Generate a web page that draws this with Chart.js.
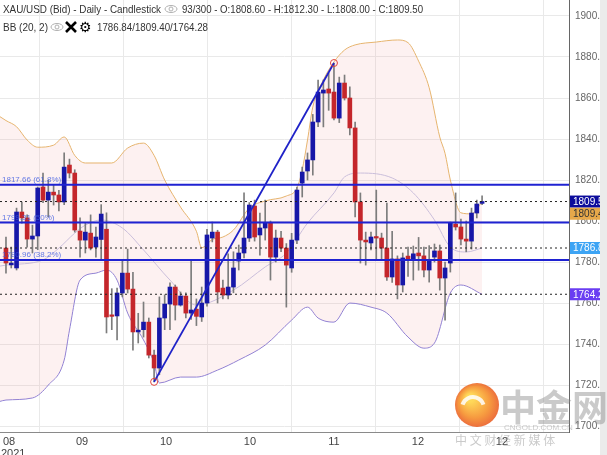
<!DOCTYPE html>
<html><head><meta charset="utf-8">
<script src="https://cdn.jsdelivr.net/npm/chart.js@4.4.0/dist/chart.umd.min.js"></script>
<style>html,body{margin:0;padding:0;background:#fff;overflow:hidden}#wrap{width:607px;height:455px;position:relative}</style>
</head><body><div id="wrap"><canvas id="c" width="607" height="455"></canvas></div>
<script>
// ---- data ----
const opens  = [1786.8,1778.6,1777.1,1804.4,1801.5,1791.2,1792.7,1816.6,1810.2,1814.1,1812.7,1809.3,1827.3,1823.4,1795.1,1790.7,1794.1,1787.3,1791.0,1796.0,1754.0,1753.7,1764.9,1774.6,1766.8,1745.9,1747.0,1750.7,1734.6,1728.3,1752.7,1759.5,1767.8,1759.0,1763.4,1755.1,1757.0,1753.2,1760.0,1791.7,1794.6,1767.3,1763.9,1767.8,1780.5,1784.4,1791.7,1807.3,1793.2,1796.6,1799.0,1782.4,1791.7,1786.8,1777.1,1790.7,1818.5,1824.4,1829.8,1848.3,1862.4,1864.4,1862.9,1850.2,1867.3,1860.0,1845.4,1809.3,1790.7,1789.3,1792.2,1791.7,1786.8,1772.7,1781.5,1768.8,1782.9,1781.0,1784.4,1783.0,1776.1,1782.4,1785.4,1772.2,1779.5,1798.5,1797.1,1791.2,1790.2,1803.9,1808.6];
const highs  = [1792.2,1787.3,1806.3,1809.3,1803.0,1798.0,1816.6,1823.4,1820.0,1817.6,1815.0,1833.2,1830.2,1825.0,1801.5,1799.0,1803.0,1797.0,1808.0,1804.0,1767.0,1767.3,1781.0,1786.3,1775.0,1755.0,1760.5,1752.7,1737.0,1763.0,1764.0,1769.8,1768.8,1765.4,1765.0,1781.0,1762.0,1767.8,1796.0,1799.5,1795.5,1771.2,1784.0,1785.0,1788.3,1813.7,1809.0,1810.2,1803.9,1810.2,1800.0,1795.6,1795.0,1789.0,1794.0,1816.6,1826.3,1833.2,1852.0,1868.8,1868.8,1872.2,1877.06,1870.2,1871.2,1865.4,1848.3,1813.7,1794.6,1794.6,1815.1,1794.1,1808.8,1795.0,1783.0,1784.4,1787.3,1787.8,1792.0,1787.3,1788.0,1788.8,1788.3,1780.0,1799.5,1813.7,1801.0,1800.0,1806.3,1810.2,1812.3];
const lows   = [1774.6,1777.1,1776.1,1799.0,1787.3,1784.4,1786.0,1809.0,1802.0,1807.8,1804.9,1808.0,1821.0,1794.6,1782.4,1784.4,1785.9,1782.4,1781.0,1745.4,1747.0,1742.0,1763.0,1764.9,1737.0,1740.5,1743.4,1733.2,1721.56,1725.0,1747.0,1747.0,1751.7,1758.5,1752.7,1752.0,1749.0,1751.0,1758.5,1789.8,1760.0,1762.0,1762.0,1765.0,1776.1,1782.0,1790.0,1790.2,1783.4,1790.7,1771.2,1780.0,1785.0,1758.0,1775.0,1789.0,1811.7,1820.0,1822.4,1846.0,1845.9,1854.0,1849.3,1848.0,1859.0,1842.0,1802.0,1779.5,1778.5,1785.9,1781.0,1781.0,1771.0,1770.0,1762.0,1765.4,1773.0,1771.2,1776.0,1772.7,1770.2,1780.0,1766.3,1751.7,1775.1,1795.6,1788.3,1785.0,1786.3,1801.5,1808.0];
const closes = [1779.5,1779.5,1804.4,1801.5,1791.2,1792.7,1816.1,1810.2,1814.1,1812.7,1809.3,1826.3,1823.4,1795.6,1790.7,1794.6,1786.8,1792.2,1803.4,1753.2,1753.5,1764.9,1774.6,1766.8,1745.9,1746.8,1750.7,1734.6,1728.3,1752.7,1759.5,1767.8,1759.0,1763.4,1755.1,1756.6,1753.5,1760.0,1793.2,1794.6,1765.4,1763.9,1767.8,1777.1,1784.4,1791.7,1807.8,1792.2,1796.6,1799.0,1782.4,1791.7,1786.8,1778.5,1790.7,1815.1,1823.9,1829.8,1848.3,1862.9,1863.9,1862.4,1850.2,1867.3,1860.0,1845.4,1809.3,1790.7,1789.8,1792.2,1791.7,1786.8,1772.7,1781.5,1768.8,1782.0,1781.0,1784.0,1783.0,1776.1,1781.0,1785.4,1772.2,1777.1,1799.0,1797.1,1791.2,1790.2,1803.9,1808.3,1809.5];

const bbUpperAt = [-1.2,0,2,4,6,9,11,13,15,20,23,26,28,30,33,36,37,39,41,43,46,49,53,55,56,57,58,60,62,64,66,70,74,76,78,80,82,83,84,86,88,90];
const bbUpper   = [1851,1849,1846,1839.5,1836,1837,1841,1832,1828.3,1828.3,1835.6,1838,1832,1820,1806.8,1795,1787,1791,1792.2,1795.6,1806.3,1809.8,1812.2,1816.1,1825,1839.5,1855.6,1868.8,1877.6,1883.4,1885.9,1887.3,1888.3,1887,1878,1865,1841,1833,1820,1804,1803.5,1809.4];
const bbMidAt   = [-1.2,0,7,10,13,15,18,22,26,31,36,43,49,53,57,62,64,67,73,77,81,84,87,90];
const bbMid     = [1778,1778.5,1781,1786.8,1794.1,1798,1800.5,1796.6,1785.9,1771.2,1759,1766.3,1777.6,1784.4,1799,1813.7,1821.5,1823.4,1821,1813.7,1800.5,1787.3,1784.9,1786.84];
const bbLowerAt = [-1.2,0,5,8,11,12,14,17,19,21,23,26,28,29,33,36,40,44,49,54,57,59,62,65,69,72,76,79,81,84,86,90];
const bbLower   = [1712,1712.7,1713.7,1720,1732.2,1746.8,1771.2,1774.6,1776.1,1771.2,1755.1,1742,1730.7,1721,1723.9,1723.9,1727.3,1732.2,1739.5,1751.7,1758,1752.7,1750.7,1760,1758,1755.1,1743.4,1738,1740.5,1764.9,1768.8,1764.28];

const fibLevels = [1817.66, 1799.31, 1780.96];
const fibLabels = ['1817.66 (61.8%)', '1799.31 (50%)', '1780.96 (38.2%)'];
const dottedLevels = [1809.5, 1786.84, 1764.28];
const trendAt = [28, 62];
const trendVal = [1721.56, 1877.06];

const yTicks = [1700,1720,1740,1760,1780,1800,1820,1840,1860,1880,1900];
const xTickAt = [14.37, 30.25, 46.12, 62.0, 77.88, 93.76];
const xTickText = ['09','10','10','11','12','12'];
const firstTickText = ['08','2021'];

const tagValues = [1809.5, 1809.4, 1786.84, 1764.28];
const tagTexts  = ['1809.50','1809.40','1786.84','1764.28'];

const headerMain = 'XAU/USD (Bid) - Daily - Candlestick';
const headerOHLC = '93/300 - O:1808.60 - H:1812.30 - L:1808.00 - C:1809.50';
const bbTitle = 'BB (20, 2)';
const bbValues = '1786.84/1809.40/1764.28';

// ---- build ----
const X_MIN = -1.13, X_MAX = 106.43;
const idx = closes.map((_, i) => i);
const up = idx.map(i => closes[i] >= opens[i]);
const BLUE = '#1717a8', RED = '#c4262b';
const FONT = '"Liberation Sans", Arial, sans-serif';

const pts = (at, vals) => at.map((x, k) => ({x, y: vals[k]}));
const hline = v => [{x: X_MIN, y: v}, {x: X_MAX, y: v}];

const datasets = [
  {type:'line', data: pts(bbUpperAt, bbUpper), borderColor:'#e6b46e', borderWidth:1, pointRadius:0,
   cubicInterpolationMode:'monotone', fill:{target:2}, backgroundColor:'rgba(246,170,170,0.17)', order:6},
  {type:'line', data: pts(bbMidAt, bbMid), borderColor:'#c2c2e4', borderWidth:1, pointRadius:0,
   cubicInterpolationMode:'monotone', fill:false, order:6},
  {type:'line', data: pts(bbLowerAt, bbLower), borderColor:'#8a7ed6', borderWidth:1, pointRadius:0,
   cubicInterpolationMode:'monotone', fill:false, order:6},
  {type:'bar', data: idx.map(i => ({x:i, y:[lows[i], highs[i]]})), backgroundColor:'#7c7c7c',
   barThickness:1, grouped:false, minBarLength:1, order:4},
  {type:'bar', data: idx.map(i => ({x:i, y:[opens[i], closes[i]]})), backgroundColor: idx.map(i => up[i] ? BLUE : RED),
   barThickness:4, grouped:false, minBarLength:1.5, order:3},
];
fibLevels.forEach(v => datasets.push({type:'line', data: hline(v), borderColor:'#1f22d2', borderWidth:2, pointRadius:0, fill:false, order:1}));
dottedLevels.forEach(v => datasets.push({type:'line', data: hline(v), borderColor:'#222', borderWidth:1, borderDash:[2,3], pointRadius:0, fill:false, order:1}));
datasets.push({type:'line', data: pts(trendAt, trendVal), borderColor:'#1f22c8', borderWidth:1.8,
  pointRadius:3.5, pointBorderColor:'#e0443c', pointBackgroundColor:'rgba(255,255,255,0)', pointBorderWidth:1, fill:false, order:0});

function fitText(ctx, text, x, y, w) {
  const m = ctx.measureText(text).width;
  ctx.save(); ctx.translate(x, y); ctx.scale(w / m, 1); ctx.fillText(text, 0, 0); ctx.restore();
}
function eye(ctx, cx, cy) {
  ctx.save(); ctx.strokeStyle = '#b0b0b0'; ctx.lineWidth = 1;
  ctx.beginPath(); ctx.ellipse(cx, cy, 6, 3.5, 0, 0, Math.PI * 2); ctx.stroke();
  ctx.beginPath(); ctx.arc(cx, cy, 2, 0, Math.PI * 2); ctx.stroke();
  ctx.restore();
}

const overlay = {
  id: 'overlay',
  afterDraw(chart) {
    const ctx = chart.ctx, ys = chart.scales.y, xs = chart.scales.x, a = chart.chartArea;
    ctx.save();
    // fib labels
    ctx.font = '8px ' + FONT;
    ctx.fillStyle = 'rgba(60,90,225,0.8)';
    ctx.textBaseline = 'bottom'; ctx.textAlign = 'left';
    fibLevels.forEach((v, k) => ctx.fillText(fibLabels[k], a.left + 2, ys.getPixelForValue(v) - 1));
    // x labels
    ctx.font = '11px ' + FONT;
    ctx.fillStyle = '#444'; ctx.textBaseline = 'top'; ctx.textAlign = 'center';
    xTickAt.forEach((v, k) => ctx.fillText(xTickText[k], xs.getPixelForValue(v), a.bottom + 4));
    ctx.textAlign = 'left';
    ctx.fillText(firstTickText[0], a.left + 3, a.bottom + 4);
    ctx.fillText(firstTickText[1], a.left + 1, a.bottom + 16);
    // price tags
    const tagBg = ['#0c0c9c', '#e6a84a', '#3da4f4', '#6a3df2'];
    const tagFg = ['#fff', '#333', '#fff', '#fff'];
    const tagShift = [0, 12, 0, 0];
    ctx.font = '10px ' + FONT; ctx.textBaseline = 'middle';
    tagValues.forEach((v, k) => {
      const py = ys.getPixelForValue(v) + tagShift[k];
      ctx.fillStyle = tagBg[k]; ctx.fillRect(a.right + 1, py - 6, 40, 12);
      ctx.fillStyle = tagFg[k]; ctx.fillText(tagTexts[k], a.right + 4, py + 0.5);
    });
    // right strip
    ctx.fillStyle = '#ebebeb'; ctx.fillRect(600, 0, 7, chart.height);
    // header
    ctx.fillStyle = '#333'; ctx.textBaseline = 'alphabetic'; ctx.textAlign = 'left';
    ctx.font = '11px ' + FONT;
    fitText(ctx, headerMain, 3, 13, 158);
    eye(ctx, 171, 9);
    fitText(ctx, headerOHLC, 182, 13, 241);
    fitText(ctx, bbTitle, 3, 31, 45);
    eye(ctx, 57, 27);
    ctx.strokeStyle = '#000'; ctx.lineWidth = 2.6; ctx.lineCap = 'butt';
    ctx.beginPath(); ctx.moveTo(66, 22); ctx.lineTo(76, 32); ctx.moveTo(76, 22); ctx.lineTo(66, 32); ctx.stroke();
    ctx.font = 'bold 14px "DejaVu Sans", sans-serif'; ctx.fillStyle = '#000';
    ctx.fillText('\u2699', 79, 32);
    ctx.font = '11px ' + FONT; ctx.fillStyle = '#333';
    fitText(ctx, bbValues, 97, 31, 111);
    // watermark
    ctx.globalAlpha = 0.85;
    const g = ctx.createRadialGradient(470, 398, 4, 477, 405, 23);
    g.addColorStop(0, '#ffd23c'); g.addColorStop(0.6, '#f5891e'); g.addColorStop(1, '#e8501a');
    ctx.fillStyle = g; ctx.beginPath(); ctx.arc(477, 405, 22, 0, Math.PI * 2); ctx.fill();
    ctx.strokeStyle = '#ffffff'; ctx.lineWidth = 4;
    ctx.beginPath(); ctx.arc(473, 408, 11, Math.PI * 1.1, Math.PI * 1.9); ctx.stroke();
    ctx.globalAlpha = 0.45; ctx.fillStyle = '#8a8a8a';
    ctx.font = 'bold 36px "Noto Sans CJK SC", sans-serif'; ctx.textBaseline = 'alphabetic';
    ctx.fillText('\u4e2d\u91d1\u7f51', 500, 421);
    ctx.font = '8px ' + FONT;
    ctx.fillText('CNGOLD.COM.CN', 504, 430);
    ctx.font = '12px "Noto Sans CJK SC", sans-serif';
    ctx.fillText('\u4e2d \u6587 \u8d22 \u7ecf \u65b0 \u5a92 \u4f53', 455, 445);
    ctx.restore();
  }
};

new Chart(document.getElementById('c'), {
  type: 'bar',
  data: { datasets },
  options: {
    responsive: false, animation: false,
    layout: { padding: 0, autoPadding: false },
    plugins: { legend: {display:false}, tooltip: {enabled:false} },
    events: [],
    scales: {
      x: {
        type: 'linear', min: X_MIN, max: X_MAX, offset: false,
        grid: { color: '#e9e9e9', drawTicks: false },
        border: { display: true, color: '#8a8a8a' },
        ticks: { display: false },
        afterBuildTicks: s => { s.ticks = xTickAt.map(v => ({value: v})); },
        afterFit: s => { s.height = 23; s.paddingLeft = 0; s.paddingRight = 0; }
      },
      y: {
        type: 'linear', position: 'right', min: 1697.1, max: 1907.8,
        grid: { color: '#e9e9e9', drawTicks: false },
        border: { display: true, color: '#666' },
        ticks: { color: '#666', padding: 6, font: { size: 10, family: FONT },
                 callback: v => Number(v).toFixed(1) },
        afterBuildTicks: s => { s.ticks = yTicks.map(v => ({value: v})); },
        afterFit: s => { s.width = 38; s.paddingTop = 0; s.paddingBottom = 0; }
      }
    }
  },
  plugins: [overlay]
});
</script></body></html>
